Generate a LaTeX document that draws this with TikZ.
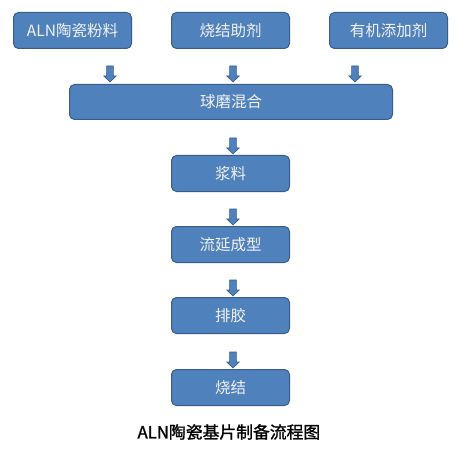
\documentclass[tikz,border=0pt]{standalone}
\usepackage{fontspec}
\setmainfont{Noto Sans CJK SC}
\newfontfamily\capfont[FakeBold=1.3]{Noto Sans CJK SC}
\usetikzlibrary{positioning}
\definecolor{boxfill}{HTML}{4F81BD}
\definecolor{boxline}{HTML}{385D8A}
\definecolor{boxtext}{HTML}{F2F2F2}
\tikzset{
  procbox/.style={draw=boxline, line width=1pt, fill=boxfill, rounded corners=5pt,
    text=boxtext, font=\fontsize{15.5}{16}\selectfont, inner sep=0pt, anchor=north west},
  barrow/.pic={
    \path[draw=boxline, line width=0.6pt, fill=boxfill]
      (-3.4,0) -- (3.4,0) -- (3.4,10) -- (6.2,10) -- (0,16) -- (-6.2,10) -- (-3.4,10) -- cycle;
  }
}
\begin{document}
\begin{tikzpicture}[x=1pt,y=-1pt]
\useasboundingbox[fill=white] (0,0) rectangle (470,454);
% top row
\node[procbox, minimum width=118pt, minimum height=36pt] (b1) at (13,12) {ALN陶瓷粉料};
\node[procbox, minimum width=118pt, minimum height=36pt] (b2) at (171,12) {烧结助剂};
\node[procbox, minimum width=118pt, minimum height=36pt] (b3) at (329,12) {有机添加剂};
% mixing
\node[procbox, minimum width=323pt, minimum height=35pt] (mix) at (69,84) {球磨混合};
% chain
\node[procbox, minimum width=118pt, minimum height=36pt] (s1) at (171,155) {浆料};
\node[procbox, minimum width=118pt, minimum height=36pt] (s2) at (171,226) {流延成型};
\node[procbox, minimum width=118pt, minimum height=36pt] (s3) at (171,297) {排胶};
\node[procbox, minimum width=118pt, minimum height=36pt] (s4) at (171,369) {烧结};
% arrows
\pic at (110,66) {barrow};
\pic at (233,66) {barrow};
\pic at (355,66) {barrow};
\pic at (233,138) {barrow};
\pic at (233,209) {barrow};
\pic at (233,280) {barrow};
\pic at (233,352) {barrow};
% caption
\node[font=\capfont\fontsize{16.8}{18}\selectfont, text=black, anchor=west] (cap) at (134,432) {ALN陶瓷基片制备流程图};
\end{tikzpicture}
\end{document}
